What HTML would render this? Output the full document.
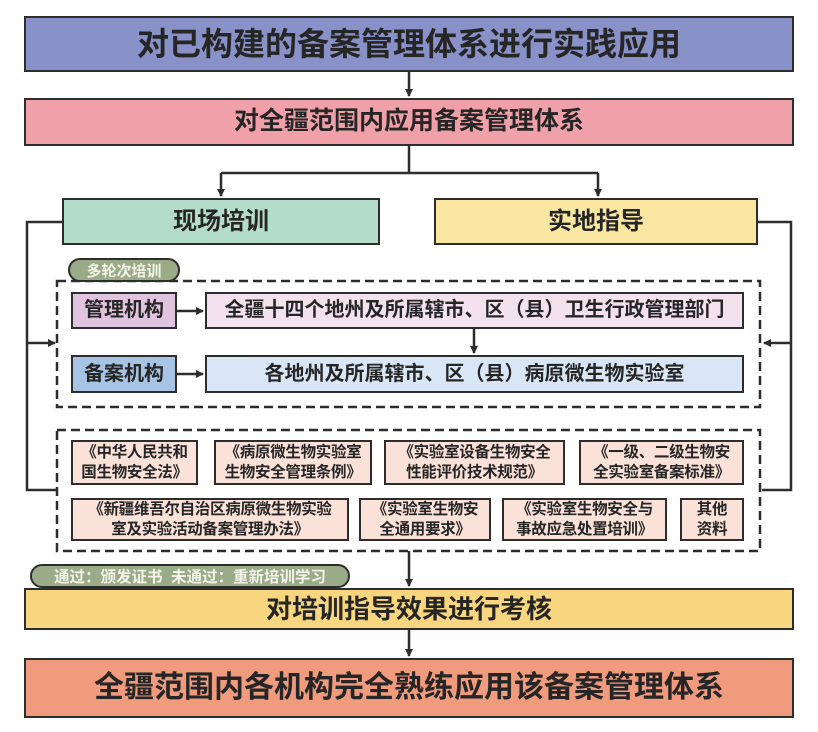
<!DOCTYPE html>
<html><head><meta charset="utf-8"><style>
body{margin:0;width:818px;height:732px;background:#fff;position:relative;overflow:hidden;font-family:"Liberation Sans","Noto Sans CJK SC",sans-serif;font-weight:bold;color:#262626}
.b{position:absolute;box-sizing:border-box;border:2.5px solid #2d2d2d;display:flex;align-items:center;justify-content:center;text-align:center;line-height:1.25;white-space:nowrap}
.p{position:absolute;box-sizing:border-box;border:2px solid #2d2d2d;border-radius:12px;background:#9aab88;color:#f4f4ea;font-size:15px;display:flex;align-items:center;justify-content:center;white-space:nowrap}
.s{font-size:15.5px;background:#fbe2d9;letter-spacing:-0.3px}
svg{position:absolute;left:0;top:0}
</style></head><body>
<svg width="818" height="732">
<defs><marker id="a" markerWidth="8" markerHeight="8" refX="7" refY="4" orient="auto" markerUnits="userSpaceOnUse"><path d="M0,0L8,4L0,8z" fill="#2d2d2d"/></marker></defs>
<g stroke="#2d2d2d" stroke-width="2.5" fill="none">
<line x1="409" y1="71" x2="409" y2="96" marker-end="url(#a)"/>
<polyline points="409,145 409,173"/>
<polyline points="221,173 598,173"/>
<line x1="221" y1="173" x2="221" y2="196" marker-end="url(#a)"/>
<line x1="598" y1="173" x2="598" y2="196" marker-end="url(#a)"/>
<polyline points="62,222 27,222 27,490 57,490"/>
<line x1="27" y1="343" x2="55" y2="343" marker-end="url(#a)"/>
<polyline points="758,222 791,222 791,490 762,490"/>
<line x1="791" y1="343" x2="764" y2="343" marker-end="url(#a)"/>
<line x1="177" y1="311" x2="203" y2="311" marker-end="url(#a)"/>
<line x1="177" y1="374" x2="203" y2="374" marker-end="url(#a)"/>
<line x1="474" y1="329" x2="474" y2="353" marker-end="url(#a)"/>
<line x1="409" y1="551" x2="409" y2="586" marker-end="url(#a)"/>
<line x1="409" y1="629" x2="409" y2="656" marker-end="url(#a)"/>
<rect x="57" y="281" width="703" height="126" stroke-dasharray="9,5"/>
<rect x="57" y="430" width="703" height="121" stroke-dasharray="9,5"/>
</g></svg>
<div class="b" style="left:24px;top:16px;width:770px;height:56px;background:#8891c8;font-size:32px">对已构建的备案管理体系进行实践应用</div>
<div class="b" style="left:24px;top:98px;width:770px;height:48px;background:#f0a0a8;font-size:25px">对全疆范围内应用备案管理体系</div>
<div class="b" style="left:62px;top:198px;width:318px;height:47px;background:#b3dccb;font-size:24px">现场培训</div>
<div class="b" style="left:434px;top:198px;width:324px;height:47px;background:#f9e7a2;font-size:24px">实地指导</div>
<div class="p" style="left:68px;top:258px;width:112px;height:24px">多轮次培训</div>
<div class="b" style="left:71px;top:292px;width:106px;height:37px;background:#e0c3df;font-size:20px">管理机构</div>
<div class="b" style="left:205px;top:292px;width:539px;height:37px;background:#f3e1ee;font-size:20px">全疆十四个地州及所属辖市、区（县）卫生行政管理部门</div>
<div class="b" style="left:71px;top:355px;width:106px;height:38px;background:#a7c4e5;font-size:20px">备案机构</div>
<div class="b" style="left:205px;top:355px;width:539px;height:38px;background:#d9e6f5;font-size:20px">各地州及所属辖市、区（县）病原微生物实验室</div>
<div class="b s" style="left:71px;top:440px;width:127px;height:45px">《中华人民共和<br>国生物安全法》</div>
<div class="b s" style="left:214px;top:440px;width:158px;height:45px">《病原微生物实验室<br>生物安全管理条例》</div>
<div class="b s" style="left:384px;top:440px;width:181px;height:45px">《实验室设备生物安全<br>性能评价技术规范》</div>
<div class="b s" style="left:579px;top:440px;width:165px;height:45px">《一级、二级生物安<br>全实验室备案标准》</div>
<div class="b s" style="left:71px;top:498px;width:278px;height:43px">《新疆维吾尔自治区病原微生物实验<br>室及实验活动备案管理办法》</div>
<div class="b s" style="left:359px;top:498px;width:132px;height:43px">《实验室生物安<br>全通用要求》</div>
<div class="b s" style="left:502px;top:498px;width:165px;height:43px">《实验室生物安全与<br>事故应急处置培训》</div>
<div class="b s" style="left:680px;top:498px;width:64px;height:43px">其他<br>资料</div>
<div class="p" style="left:30px;top:564px;width:320px;height:24px;font-size:15.5px">通过：颁发证书&nbsp;&nbsp;未通过：重新培训学习</div>
<div class="b" style="left:24px;top:588px;width:770px;height:42px;background:#f8d57f;font-size:26px">对培训指导效果进行考核</div>
<div class="b" style="left:24px;top:658px;width:770px;height:60px;background:#f09a7e;font-size:30px">全疆范围内各机构完全熟练应用该备案管理体系</div>
</body></html>
